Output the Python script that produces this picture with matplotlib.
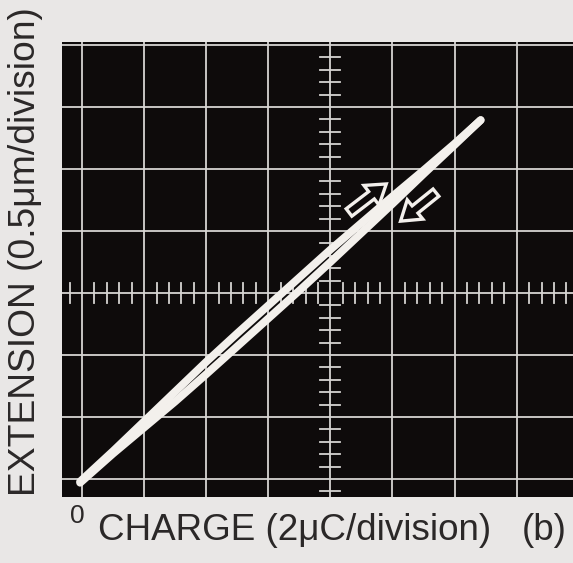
import matplotlib.pyplot as plt
from matplotlib.patches import FancyArrow

plt.rcParams['font.family'] = ['Liberation Sans', 'DejaVu Sans']

# charge axis in screen divisions (2 uC/div), extension in divisions (0.5 um/div)
charge = [-0.03, 0.5, 1.0, 1.5, 2.0, 2.5, 3.0, 3.5, 4.0, 4.5, 5.0, 5.5, 6.0, 6.42]
ext_rising = [-0.04, 0.45, 0.93, 1.41, 1.89, 2.35, 2.80, 3.25, 3.70, 4.13, 4.56, 4.98, 5.41, 5.79]
ext_falling = [-0.06, 0.41, 0.83, 1.25, 1.69, 2.14, 2.59, 3.04, 3.50, 3.97, 4.44, 4.92, 5.39, 5.79]

major_x = [0, 1, 2, 3, 4, 5, 6, 7]
major_y = [0, 1, 2, 3, 4, 5, 6, 7]
center_x = 4
center_y = 3

paper = '#e9e7e6'
screen = '#0e0b0b'
grid_col = '#d6d4d2'
trace_col = '#f3f0ec'
ink = '#2b2828'

fig = plt.figure(figsize=(5.73, 5.63), dpi=100, facecolor=paper)
ax = fig.add_axes([62 / 573, 66 / 563, 511 / 573, 455 / 563])
ax.set_facecolor(screen)
ax.set_xlim(-0.322, 7.907)
ax.set_ylim(-0.29, 7.05)
for s in ax.spines.values():
    s.set_visible(False)
ax.set_xticks([])
ax.set_yticks([])

# graticule
for gx in major_x:
    ax.axvline(gx, color=grid_col, lw=1.3, zorder=1)
for gy in major_y:
    ax.axhline(gy, color=grid_col, lw=1.3, zorder=1)

# minor ticks along the centre cross-hair, 5 per division
for i in range(-2, 40):
    t = i * 0.2
    if abs(t - round(t)) > 1e-6:
        ax.plot([t, t], [center_y - 0.16, center_y + 0.16], color=grid_col, lw=1.3, zorder=1)
for i in range(-2, 36):
    t = i * 0.2
    if abs(t - round(t)) > 1e-6:
        ax.plot([center_x - 0.16, center_x + 0.16], [t, t], color=grid_col, lw=1.3, zorder=1)

# hysteresis trace: rising and falling branches
ax.plot(charge, ext_rising, color=trace_col, lw=5.6, solid_capstyle='round',
        solid_joinstyle='round', zorder=3)
ax.plot(charge, ext_falling, color=trace_col, lw=5.6, solid_capstyle='round',
        solid_joinstyle='round', zorder=3)

# direction arrows (hollow)
arrow_kw = dict(width=0.15, head_width=0.40, head_length=0.30, length_includes_head=True,
                fc=screen, ec=trace_col, lw=2.4, zorder=4)
ax.add_patch(FancyArrow(4.30, 4.30, 0.60, 0.46, **arrow_kw))
ax.add_patch(FancyArrow(5.70, 4.62, -0.57, -0.46, **arrow_kw))

fig.text(26 / 573, 1 - 252 / 563, 'EXTENSION (0.5\u03bcm/division)', rotation=90,
         ha='center', va='center', fontsize=26.8, color=ink)
fig.text(70 / 573, 1 - 523 / 563, '0', fontsize=19, color=ink, va='baseline')
fig.text(98 / 573, 1 - 540 / 563, 'CHARGE (2\u03bcC/division)', fontsize=26.5, color=ink,
         va='baseline')
fig.text(522 / 573, 1 - 540 / 563, '(b)', fontsize=26.5, color=ink, va='baseline')

fig.savefig('out.png', dpi=100, facecolor=paper)
